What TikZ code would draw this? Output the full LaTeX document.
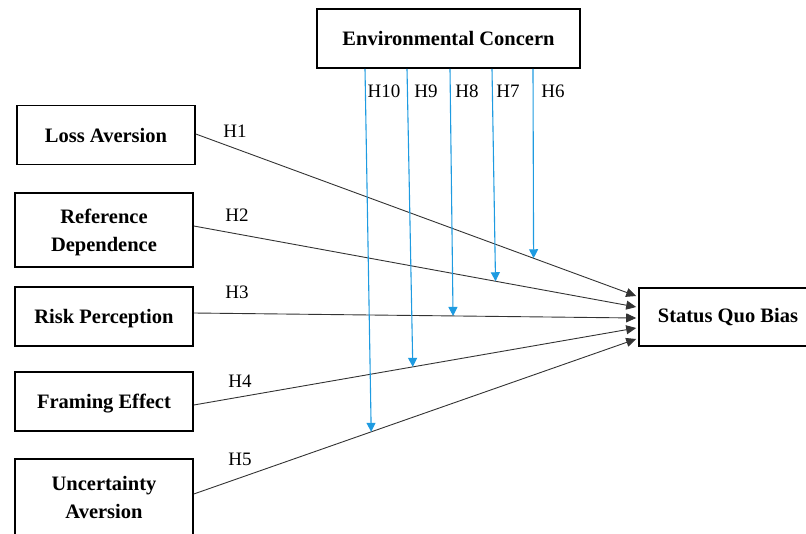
\documentclass[tikz,border=0pt]{standalone}
\usepackage{fontspec}
\setmainfont{Liberation Serif}
\usetikzlibrary{arrows.meta,calc}
\definecolor{modblue}{RGB}{30,155,225}
\begin{document}
\begin{tikzpicture}[x=1pt,y=-1pt,
  box/.style={draw=black,line width=1.6pt,rectangle,inner sep=0pt,align=center,
    font=\fontsize{20.5}{28}\selectfont\bfseries},
  hyp/.style={font=\fontsize{19}{22}\selectfont,inner sep=0pt},
  effect/.style={draw=black!80,line width=0.9pt,-{Triangle[length=10pt,width=9pt]}},
  moder/.style={draw=modblue,line width=1.1pt,-{Triangle[length=9pt,width=9pt]}}]
\useasboundingbox (0,0) rectangle (806,533);
% boxes
\node[box,minimum width=263pt,minimum height=59pt] (env) at (448.5,38.5) {Environmental Concern};
\node[box,minimum width=178pt,minimum height=59pt,text depth=-4pt] (loss) at (106,135) {Loss Aversion};
\node[box,minimum width=178pt,minimum height=74pt,text depth=-1.6pt] (ref) at (104,230) {Reference\\Dependence};
\node[box,minimum width=178pt,minimum height=59pt,text depth=0pt] (risk) at (104,316.5) {Risk Perception};
\node[box,minimum width=178pt,minimum height=59pt,text depth=-2.6pt] (frame) at (104,401.5) {Framing Effect};
\node[box,minimum width=178pt,minimum height=82pt,text depth=5pt] (unc) at (104,500) {Uncertainty\\Aversion};
\node[box,minimum width=178pt,minimum height=58pt] (sqb) at (728,317) {Status Quo Bias};
% endpoints of the direct effects
\coordinate (s1) at ([yshift=1pt]loss.east);
\coordinate (s2) at ([yshift=4pt]ref.east);
\coordinate (s3) at ([yshift=3.5pt]risk.east);
\coordinate (s4) at ([yshift=-3.5pt]frame.east);
\coordinate (s5) at ([yshift=6pt]unc.east);
\coordinate (t1) at ([xshift=-2pt,yshift=21pt]sqb.west);
\coordinate (t2) at ([xshift=-2pt,yshift=10pt]sqb.west);
\coordinate (t3) at ([xshift=-2pt,yshift=-1pt]sqb.west);
\coordinate (t4) at ([xshift=-2pt,yshift=-11pt]sqb.west);
\coordinate (t5) at ([xshift=-2pt,yshift=-22pt]sqb.west);
\draw[effect] (s1) -- (t1);
\draw[effect] (s2) -- (t2);
\draw[effect] (s3) -- (t3);
\draw[effect] (s4) -- (t4);
\draw[effect] (s5) -- (t5);
% moderating arrows
\coordinate (m6) at ([xshift=84.5pt]env.south);
\coordinate (m7) at ([xshift=43.5pt]env.south);
\coordinate (m8) at ([xshift=1.5pt]env.south);
\coordinate (m9) at ([xshift=-41.5pt]env.south);
\coordinate (m10) at ([xshift=-83.5pt]env.south);
\coordinate (e6) at ($(s1)!0.767!(t1)$);
\coordinate (e7) at ($(s2)!0.682!(t2)$);
\coordinate (e8) at ($(s3)!0.586!(t3)$);
\coordinate (e9) at ($(s4)!0.495!(t4)$);
\coordinate (e10) at ($(s5)!0.401!(t5)$);
\draw[moder] (m6) -- (e6);
\draw[moder] (m7) -- (e7);
\draw[moder] (m8) -- (e8);
\draw[moder] (m9) -- (e9);
\draw[moder] (m10) -- (e10);
% labels
\node[hyp] (h1) at (235,131) {H1};
\node[hyp] (h2) at (237,215) {H2};
\node[hyp] (h3) at (237,292) {H3};
\node[hyp] (h4) at (240,381) {H4};
\node[hyp] (h5) at (240,459) {H5};
\node[hyp] (h6) at (553,91) {H6};
\node[hyp] (h7) at (508,91) {H7};
\node[hyp] (h8) at (467,91) {H8};
\node[hyp] (h9) at (426,91) {H9};
\node[hyp] (h10) at (384,91) {H10};
\end{tikzpicture}
\end{document}
